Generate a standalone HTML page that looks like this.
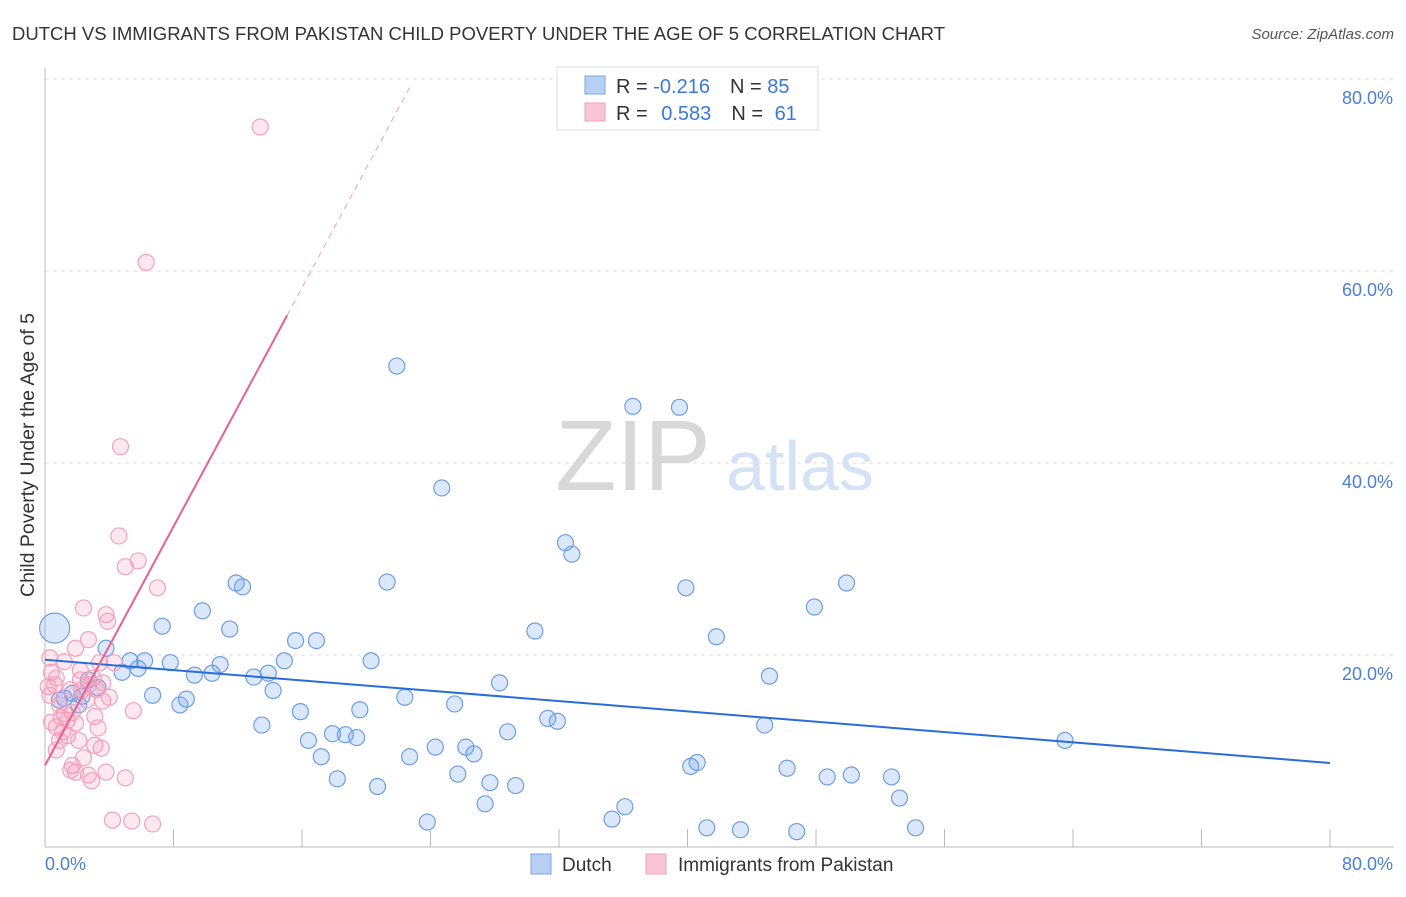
<!DOCTYPE html>
<html><head><meta charset="utf-8">
<style>
body{margin:0;background:#fff;font-family:"Liberation Sans",sans-serif;}
svg text{font-family:"Liberation Sans",sans-serif;}
</style></head>
<body>
<svg id="chart" width="1406" height="892" xmlns="http://www.w3.org/2000/svg">
<text x="12" y="40" font-size="18.5" fill="#333">DUTCH VS IMMIGRANTS FROM PAKISTAN CHILD POVERTY UNDER THE AGE OF 5 CORRELATION CHART</text>
<text x="1394" y="39" font-size="15" fill="#555" text-anchor="end" font-style="italic">Source: ZipAtlas.com</text>
<g id="grid"></g>
<g>
<text x="633" y="490" font-size="100" fill="#d8d8d8" text-anchor="middle" font-family="Liberation Serif">ZIP</text>
<text x="800" y="490" font-size="70" fill="#d4e2f6" text-anchor="middle">atlas</text>
</g>
<text transform="translate(34,455) rotate(-90)" font-size="19.5" fill="#333" text-anchor="middle">Child Poverty Under the Age of 5</text>
<g id="pts"></g>
<g id="lines"></g>
<g>
<rect x="557" y="67" width="261" height="63" fill="#fff" stroke="#ddd"/>
<rect x="585" y="76" width="20" height="18" fill="#b8d0f4" stroke="#7aa6e6"/>
<rect x="585" y="103" width="20" height="18" fill="#fac6d6" stroke="#f0a0b8"/>
<text x="616" y="93" font-size="20" fill="#333">R = <tspan fill="#3b78d8">-0.216</tspan><tspan dx="20">N = </tspan><tspan fill="#3b78d8">85</tspan></text>
<text x="616" y="120" font-size="20" fill="#333">R = <tspan dx="8" fill="#3b78d8">0.583</tspan><tspan dx="20">N = </tspan><tspan dx="6" fill="#3b78d8">61</tspan></text>
</g>
<g>
<rect x="531" y="854" width="20" height="20" fill="#b8d0f4" stroke="#7aa6e6"/>
<text x="562" y="871" font-size="19" fill="#333">Dutch</text>
<rect x="646" y="854" width="20" height="20" fill="#fac6d6" stroke="#f0a0b8"/>
<text x="678" y="871" font-size="19" fill="#333">Immigrants from Pakistan</text>
</g>
</svg>
<script>
const yTicks=[20,40,60,80];
const xTickLabels=["0.0%","80.0%"];
const dutchX=[21.9,36.6,39.5,24.7,32.4,32.8,21.3,11.9,12.3,39.9,49.9,47.9,9.8,7.3,11.5,30.5,41.8,16.9,15.6,3.8,6.2,5.3,7.8,5.8,20.3,14.9,10.9,4.8,10.4,9.3,13.0,13.9,45.1,28.3,14.2,3.3,2.7,2.3,1.2,6.7,8.8,8.4,22.4,25.5,15.9,19.6,31.3,31.9,13.5,44.8,28.8,17.9,18.7,19.4,16.4,63.5,24.3,26.2,26.7,17.2,22.7,40.2,40.6,46.2,25.7,27.7,18.2,48.7,50.2,52.7,20.7,29.3,53.2,27.4,36.1,35.3,23.8,41.2,43.3,46.8,54.2,0.9,1.7,2.1,0.6];
const dutchY=[50.1,45.9,45.8,37.4,31.7,30.5,27.6,27.5,27.1,27.0,27.5,25.0,24.6,23.0,22.7,22.5,21.9,21.5,21.5,20.7,19.4,19.4,19.2,18.6,19.4,19.4,19.0,18.2,18.1,17.9,17.7,18.1,17.8,17.1,16.3,16.6,17.4,15.7,15.5,15.8,15.4,14.8,15.6,14.9,14.1,14.3,13.4,13.1,12.7,12.7,12.0,11.8,11.7,11.4,11.1,11.1,10.4,10.4,9.7,9.4,9.4,8.4,8.8,8.2,7.6,6.7,7.1,7.3,7.5,7.3,6.3,6.4,5.1,4.5,4.2,2.9,2.6,2.0,1.8,1.6,2.0,15.3,16.0,14.8,22.8];
const pakX=[13.4,6.3,4.7,4.6,5.8,5.0,7.0,2.4,3.8,3.9,2.7,1.9,0.3,1.2,3.4,4.3,2.2,0.4,0.7,3.0,3.6,0.2,2.7,0.6,1.6,2.3,3.6,0.9,5.5,1.7,1.0,1.4,3.1,0.4,1.9,0.7,3.3,1.1,1.4,2.1,3.1,3.5,0.7,2.4,1.7,1.9,3.8,2.7,2.9,5.0,4.2,5.4,6.7,0.9,0.3,1.2,2.6,3.2,4.0,1.6,2.2];
const pakY=[75.0,60.9,41.7,32.4,29.8,29.2,27.0,24.9,24.2,23.5,21.6,20.7,19.7,19.3,19.2,19.2,18.4,18.2,17.6,17.6,17.1,16.7,16.9,16.9,16.4,16.4,15.2,14.8,14.2,14.0,13.5,13.2,13.6,13.0,12.9,12.5,12.4,12.0,11.6,11.1,10.6,10.3,10.1,9.3,8.5,7.8,7.8,7.5,6.9,7.2,2.8,2.7,2.4,11.1,15.8,13.9,15.3,16.4,15.6,8.0,17.4];
const dutchTrend=[19.5,8.75];
const pakTrend=[8.5,3.11];
const NS="http://www.w3.org/2000/svg";
const X0=45,X1=1330,Y0=847,Y80=79;
const sx=v=>X0+(X1-X0)*v/80, sy=v=>Y0-(Y0-Y80)*v/80;
function mk(t,a,p){const e=document.createElementNS(NS,t);for(const k in a)e.setAttribute(k,a[k]);p.appendChild(e);return e;}
const grid=document.getElementById('grid');
yTicks.forEach(t=>{
 const l=mk('line',{x1:X0,x2:1394,y1:sy(t),y2:sy(t),stroke:'#ddd','stroke-dasharray':'4,4'},grid);
 
 
 const tx=mk('text',{x:1393,y:sy(t)+25,'font-size':18,fill:'#4a7fd4','text-anchor':'end'},grid);
 tx.textContent=t.toFixed(1)+'%';
 
 
});
const ax=mk('line',{x1:X0,x2:1394,y1:Y0,y2:Y0,stroke:'#bbb'},grid);


const ay=mk('line',{x1:X0,x2:X0,y1:68,y2:Y0,stroke:'#bbb'},grid);


for(let i=0;i<=10;i++){const t=mk('line',{x1:sx(i*8),x2:sx(i*8),y1:Y0,y2:Y0-18,stroke:'#bbb'},grid);
 
 }
[[X0+0,'start',0],[1393,'end',1]].forEach(([x,a,i])=>{const t=mk('text',{x:x,y:870,'font-size':18,fill:'#4a7fd4','text-anchor':a},grid);t.textContent=xTickLabels[i];
 
 });
const pts=document.getElementById('pts');
dutchX.forEach((x,i)=>{const r=(i===dutchX.length-1)?15:8;
 const c=mk('circle',{cx:sx(x),cy:sy(dutchY[i]),r:r,fill:'rgba(110,160,235,0.25)',stroke:'#6d9fe4','stroke-width':1.2},pts);
 
 });
pakX.forEach((x,i)=>{
 const c=mk('circle',{cx:sx(x),cy:sy(pakY[i]),r:8,fill:'rgba(245,150,180,0.22)',stroke:'#f2a2bc','stroke-width':1.2},pts);
 
 });
const lines=document.getElementById('lines');
const dl=mk('line',{x1:sx(0),y1:sy(dutchTrend[0]),x2:sx(80),y2:sy(dutchTrend[1]),stroke:'#2a6dd9','stroke-width':2},lines);


const pe=15.07, pd=22.7;
const pl=mk('line',{x1:sx(0),y1:sy(pakTrend[0]),x2:sx(pe),y2:sy(pakTrend[0]+pakTrend[1]*pe),stroke:'#e8608c','stroke-width':2},lines);


const pdl=mk('line',{x1:sx(pe),y1:sy(pakTrend[0]+pakTrend[1]*pe),x2:sx(pd),y2:sy(pakTrend[0]+pakTrend[1]*pd),stroke:'#f0a0b8','stroke-width':1,'stroke-dasharray':'6,5'},lines);


</script>
</body></html>
